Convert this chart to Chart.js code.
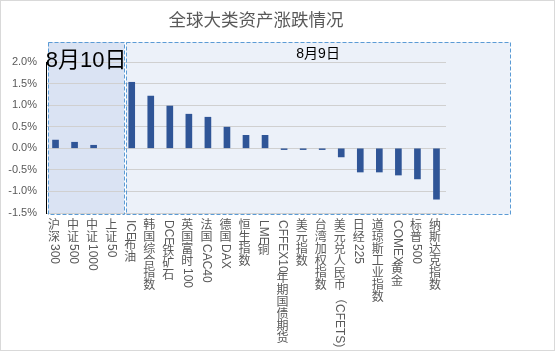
<!DOCTYPE html>
<html>
<head>
<meta charset="utf-8">
<script src="https://cdn.jsdelivr.net/npm/chart.js@4"></script>
<style>
  html, body { margin: 0; padding: 0; background: #fff; }
  canvas { display: block; background: #fff; }
</style>
</head>
<body>
<canvas id="assetChart" width="556" height="352"></canvas>
<script>
const categories = ["沪深300", "中证500", "中证1000", "上证50", "ICE布油", "韩国综合指数", "DCE铁矿石", "英国富时100", "法国CAC40", "德国DAX", "恒生指数", "LME铜", "CFFEX10年期国债期货", "美元指数", "台湾加权指数", "美元兑人民币（CFETS)", "日经225", "道琼斯工业指数", "COMEX黄金", "标普500", "纳斯达克指数"];
const changes = [0.19, 0.14, 0.07, 0.00, 1.53, 1.21, 0.98, 0.79, 0.72, 0.49, 0.30, 0.30, -0.03, -0.03, -0.03, -0.20, -0.55, -0.55, -0.62, -0.71, -1.18];
const groupNames = ["8月10日", "8月9日"];
const groupSizes = [4, 17];
const yTicks = [-1.5, -1.0, -0.5, 0.0, 0.5, 1.0, 1.5, 2.0];
const chartTitle = "全球大类资产涨跌情况";

const FONT = '"Liberation Sans", "Noto Sans CJK SC", sans-serif';
const GREY = "#595959";
const BAR = "#2f5597";

// draws a label top-to-bottom: CJK upright, latin runs turned clockwise
function drawVertical(ctx, text, cx, top) {
  let y = top;
  const runs = text.match(/[\u4e00-\u9fff]|[^\u4e00-\u9fff]+/g) || [];
  runs.forEach((r) => {
    if (/[\u4e00-\u9fff]/.test(r)) {
      ctx.textAlign = "center";
      ctx.textBaseline = "top";
      ctx.fillText(r, cx, y);
      y += 12;
    } else {
      const w = ctx.measureText(r).width;
      ctx.save();
      ctx.translate(cx, y);
      ctx.rotate(Math.PI / 2);
      ctx.textAlign = "left";
      ctx.textBaseline = "middle";
      ctx.fillText(r, 0, 0);
      ctx.restore();
      y += w;
    }
  });
}

function groupBoxes(chart) {
  const x = chart.scales.x;
  const y = chart.scales.y;
  const area = chart.chartArea;
  const step = x.getPixelForValue(1) - x.getPixelForValue(0);
  const split = x.getPixelForValue(groupSizes[0] - 1) + step / 2;
  const top = y.getPixelForValue(yTicks[yTicks.length - 1]) - 20;
  const bottom = y.getPixelForValue(yTicks[0]) + 1;
  return [
    { left: area.left + 2, right: split + 2, top, bottom, fill: "#dae3f3", text: groupNames[0], size: 22, ty: top + 19 },
    { left: split + 4, right: area.right + 64, top, bottom, fill: "#ecf1f9", text: groupNames[1], size: 14, ty: top + 12 },
  ];
}

const groupPlugin = {
  id: "groups",
  beforeDraw(chart) {
    const ctx = chart.ctx;
    ctx.save();
    groupBoxes(chart).forEach((b) => {
      ctx.fillStyle = b.fill;
      ctx.fillRect(b.left, b.top, b.right - b.left, b.bottom - b.top);
    });
    ctx.restore();
  },
  afterDraw(chart) {
    const ctx = chart.ctx;
    const x = chart.scales.x;
    ctx.save();

    // title, centred a little left of the canvas middle
    ctx.fillStyle = GREY;
    ctx.font = "17.5px " + FONT;
    ctx.textAlign = "center";
    ctx.textBaseline = "middle";
    ctx.fillText(chartTitle, chart.width / 2 - 22, 21);

    // dashed borders + group titles
    groupBoxes(chart).forEach((b) => {
      ctx.strokeStyle = "#5b9bd5";
      ctx.lineWidth = 1;
      ctx.setLineDash([4, 2]);
      ctx.strokeRect(Math.round(b.left) + 0.5, Math.round(b.top) + 0.5, Math.round(b.right - b.left), Math.round(b.bottom - b.top));
      ctx.setLineDash([]);
      ctx.fillStyle = "#000";
      ctx.font = b.size + "px " + FONT;
      ctx.textAlign = "center";
      ctx.textBaseline = "middle";
      ctx.fillText(b.text, (b.left + b.right) / 2, b.ty);
    });

    // category labels
    ctx.fillStyle = GREY;
    ctx.font = "12px " + FONT;
    categories.forEach((c, i) => {
      drawVertical(ctx, c, x.getPixelForValue(i) - 1.5, chart.chartArea.bottom + 7);
    });

    // outer frame
    ctx.strokeStyle = "#d9d9d9";
    ctx.lineWidth = 1;
    ctx.strokeRect(0.5, 0.5, chart.width - 2, chart.height - 2);
    ctx.restore();
  },
};

new Chart(document.getElementById("assetChart").getContext("2d"), {
  type: "bar",
  data: {
    labels: categories,
    datasets: [
      {
        data: changes,
        backgroundColor: (c) => (c.raw === 0 ? "rgba(0,0,0,0)" : BAR),
        barThickness: 6,
      },
    ],
  },
  options: {
    responsive: false,
    animation: false,
    layout: { padding: { left: 0, right: 110, top: 62, bottom: 139 } },
    plugins: {
      legend: { display: false },
      tooltip: { enabled: false },
      title: { display: false },
    },
    scales: {
      x: {
        ticks: { display: false },
        grid: { display: false },
        border: { display: false },
        afterFit(s) { s.height = 0; },
      },
      y: {
        min: yTicks[0],
        max: yTicks[yTicks.length - 1],
        afterBuildTicks(s) { s.ticks = yTicks.map((v) => ({ value: v })); },
        ticks: {
          color: GREY,
          font: { size: 11, family: FONT },
          padding: 9,
          callback: (v) => Number(v).toFixed(1) + "%",
        },
        grid: { color: "#d0d0d0", drawTicks: false },
        border: { color: "#000" },
        afterFit(s) { s.width = 46; },
      },
    },
  },
  plugins: [groupPlugin],
});
</script>
</body>
</html>
